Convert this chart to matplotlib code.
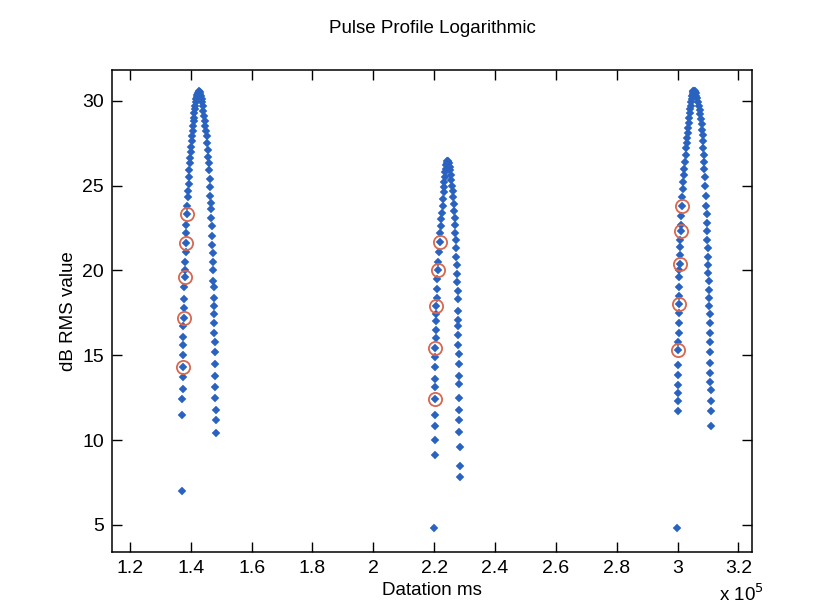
import numpy as np
import matplotlib
matplotlib.use('Agg')
import matplotlib.pyplot as plt

plt.rcParams['font.family'] = ['Liberation Sans', 'DejaVu Sans']

# time in units of 1e5 ms, values in dB
# pulse 1 (rising side then falling side)
p1_x = [1.370, 1.373, 1.373, 1.374, 1.374, 1.374, 1.375, 1.375, 1.376, 1.376,
        1.377, 1.378, 1.378, 1.379, 1.380, 1.381, 1.382, 1.383, 1.384, 1.385,
        1.386, 1.387, 1.388, 1.390, 1.391, 1.393, 1.394, 1.396, 1.397, 1.399,
        1.401, 1.402, 1.404, 1.405, 1.407, 1.408, 1.410, 1.411, 1.412, 1.413,
        1.415, 1.417, 1.419, 1.420, 1.422, 1.424, 1.426,
        1.428, 1.430, 1.432, 1.434, 1.436, 1.438, 1.440, 1.442, 1.444, 1.446,
        1.448, 1.450, 1.452, 1.454, 1.456, 1.457, 1.459, 1.460, 1.462, 1.463,
        1.465, 1.466, 1.467, 1.468, 1.469, 1.470, 1.471, 1.472, 1.472, 1.473,
        1.474, 1.475, 1.475, 1.476, 1.477, 1.477, 1.478, 1.479, 1.479, 1.480,
        1.480, 1.481, 1.481, 1.482, 1.482, 1.483]
p1_y = [7.0, 11.5, 12.4, 13.0, 13.7, 14.3, 15.0, 15.6, 16.1, 16.7,
        17.2, 17.8, 18.3, 19.0, 19.6, 20.0, 20.5, 21.1, 21.6, 22.2,
        22.7, 23.3, 23.8, 24.3, 24.7, 25.1, 25.5, 25.9, 26.3, 26.6,
        27.0, 27.3, 27.6, 27.9, 28.2, 28.5, 28.8, 29.0, 29.3, 29.5,
        29.7, 29.9, 30.1, 30.2, 30.35, 30.45, 30.5,
        30.55, 30.5, 30.4, 30.3, 30.1, 29.9, 29.7, 29.4, 29.1, 28.8,
        28.5, 28.2, 27.9, 27.5, 27.1, 26.7, 26.3, 25.9, 25.4, 24.9,
        24.4, 24.0, 23.6, 23.1, 22.6, 22.0, 21.5, 21.0, 20.5, 20.0,
        19.4, 19.0, 18.4, 17.9, 17.4, 16.9, 16.3, 15.8, 15.2, 14.5,
        13.8, 13.1, 12.5, 11.8, 11.2, 10.4]

# pulse 2
p2_x = [2.200, 2.202, 2.202, 2.202, 2.203, 2.203, 2.203, 2.203, 2.204, 2.204,
        2.204, 2.205, 2.205, 2.206, 2.206, 2.207, 2.208, 2.209, 2.210, 2.212,
        2.214, 2.216, 2.218, 2.220, 2.222, 2.224, 2.226, 2.228, 2.229, 2.231,
        2.232, 2.233, 2.235, 2.236, 2.238, 2.240, 2.241, 2.243,
        2.245, 2.247, 2.249, 2.251, 2.253, 2.255, 2.257, 2.259, 2.261, 2.262,
        2.264, 2.265, 2.267, 2.268, 2.270, 2.271, 2.272, 2.273, 2.274, 2.275,
        2.276, 2.277, 2.277, 2.278, 2.279, 2.279, 2.280, 2.280, 2.281, 2.281,
        2.282, 2.282, 2.282, 2.283, 2.283, 2.283, 2.284, 2.284, 2.285]
p2_y = [4.8, 9.1, 10.0, 10.8, 11.5, 12.4, 13.1, 13.6, 14.3, 14.9,
        15.45, 16.0, 16.5, 17.0, 17.4, 17.9, 18.4, 18.9, 19.5, 20.0,
        20.5, 21.1, 21.7, 22.2, 22.6, 23.0, 23.4, 23.8, 24.2, 24.6,
        24.9, 25.2, 25.5, 25.8, 26.0, 26.2, 26.35, 26.45,
        26.45, 26.4, 26.3, 26.1, 25.9, 25.6, 25.3, 25.0, 24.7, 24.3,
        23.9, 23.5, 23.1, 22.7, 22.2, 21.8, 21.3, 20.8, 20.3, 19.8,
        19.3, 18.8, 18.3, 17.6, 17.1, 16.7, 16.2, 15.6, 15.1, 14.5,
        13.8, 13.3, 12.5, 11.8, 11.2, 10.5, 9.6, 8.5, 7.8]

# pulse 3
p3_x = [2.998, 3.000, 3.000, 3.001, 3.001, 3.001, 3.002, 3.002, 3.002, 3.003,
        3.003, 3.004, 3.004, 3.005, 3.005, 3.006, 3.006, 3.007, 3.008, 3.008,
        3.009, 3.010, 3.011, 3.012, 3.013, 3.015, 3.017, 3.018, 3.020, 3.022,
        3.024, 3.026, 3.028, 3.030, 3.032, 3.033, 3.035, 3.037, 3.039, 3.040,
        3.042, 3.043, 3.045, 3.046, 3.048, 3.049, 3.050, 3.052,
        3.053, 3.056, 3.059, 3.062, 3.065, 3.068, 3.071, 3.073, 3.075, 3.077,
        3.079, 3.080, 3.082, 3.083, 3.085, 3.086, 3.087, 3.088, 3.089, 3.091,
        3.092, 3.094, 3.095, 3.096, 3.097, 3.098, 3.099, 3.100, 3.101, 3.101,
        3.102, 3.103, 3.103, 3.104, 3.105, 3.105, 3.106, 3.106, 3.107, 3.107,
        3.108, 3.108, 3.109, 3.109, 3.110, 3.111]
p3_y = [4.8, 11.7, 12.3, 12.8, 13.25, 13.85, 14.4, 15.3, 15.8, 16.3,
        16.9, 17.5, 18.0, 18.5, 19.0, 19.6, 20.0, 20.4, 20.9, 21.4,
        21.8, 22.3, 22.7, 23.2, 23.8, 24.3, 24.8, 25.2, 25.6, 26.0,
        26.4, 26.8, 27.2, 27.5, 27.8, 28.1, 28.4, 28.7, 29.0, 29.3,
        29.5, 29.7, 29.9, 30.1, 30.25, 30.4, 30.5, 30.55,
        30.6, 30.55, 30.45, 30.3, 30.15, 29.95, 29.7, 29.45, 29.2, 28.9,
        28.6, 28.3, 28.0, 27.6, 27.2, 26.8, 26.4, 26.0, 25.5, 24.95,
        24.36, 23.8, 23.3, 22.8, 22.3, 21.8, 21.3, 20.8, 20.3, 19.86,
        19.35, 18.86, 18.4, 17.9, 17.4, 16.9, 16.3, 15.8, 15.2, 14.55,
        13.96, 13.45, 12.95, 12.3, 11.7, 10.8]

# highlighted samples (red circles)
mark_x = [1.374, 1.377, 1.380, 1.384, 1.387,
          2.203, 2.204, 2.206, 2.212, 2.218,
          3.002, 3.004, 3.007, 3.010, 3.013]
mark_y = [14.3, 17.2, 19.6, 21.6, 23.3,
          12.4, 15.45, 17.9, 20.0, 21.7,
          15.3, 18.0, 20.4, 22.3, 23.8]

fig = plt.figure(figsize=(8.19, 6.10), dpi=100)
ax = fig.add_axes([0.137, 0.095, 0.781, 0.790])

blue = '#2a62c0'
for xs, ys in [(p1_x, p1_y), (p2_x, p2_y), (p3_x, p3_y)]:
    ax.plot(xs, ys, linestyle='none', marker='D', ms=4.2, mfc=blue, mec=blue, mew=0.3)
ax.plot(mark_x, mark_y, linestyle='none', marker='o', ms=9.5, mfc='none', mec='#d8674f', mew=1.3)

ax.set_xlim(1.142, 3.244)
ax.set_ylim(3.4, 31.8)
ax.set_xticks(np.arange(1.2, 3.21, 0.2))
ax.set_xticklabels(['1.2', '1.4', '1.6', '1.8', '2', '2.2', '2.4', '2.6', '2.8', '3', '3.2'])
ax.set_yticks([5, 10, 15, 20, 25, 30])
ax.tick_params(direction='in', top=True, right=True, length=7, width=1,
               labelsize=14, pad=6, colors='black')
for s in ax.spines.values():
    s.set_linewidth(1.1)

ax.set_title('Pulse Profile Logarithmic', fontsize=13.5, pad=27)
ax.set_xlabel('Datation ms', fontsize=13.5, labelpad=3)
ax.set_ylabel('dB RMS value', fontsize=13.5, labelpad=4)
fig.text(0.905, 0.008, 'x 10$^5$', fontsize=13.5, ha='center', va='bottom')

fig.savefig('out.png', dpi=100)
